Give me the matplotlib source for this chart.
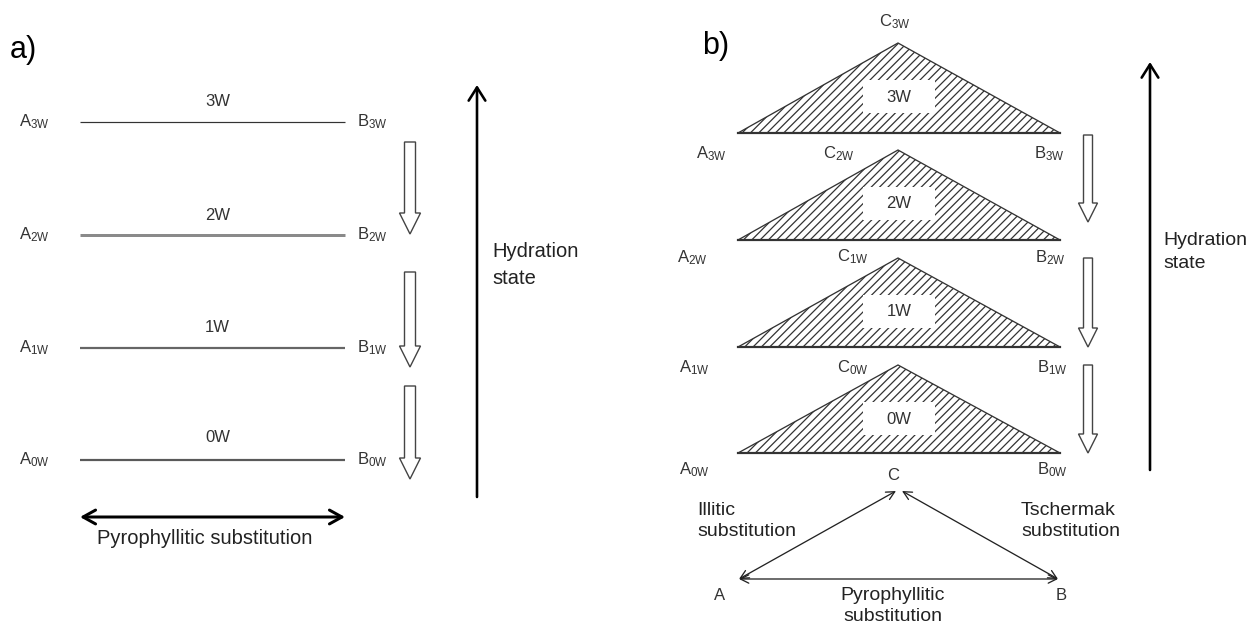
import numpy as np
import matplotlib.pyplot as plt
from matplotlib.patches import Polygon, Rectangle, FancyArrow

plt.rcParams["font.family"] = ["Liberation Sans", "DejaVu Sans"]
plt.rcParams["hatch.linewidth"] = 0.9

PT = 72 / 100  # points per pixel at dpi 100

# hydration states, top to bottom
levels = ["3W", "2W", "1W", "0W"]

# panel a) : one line A-B per hydration state
a_line_y = [122, 235, 348, 460]
a_line_x = [80, 345]
a_line_color = ["#333333", "#8a8a8a", "#666666", "#5a5a5a"]
a_line_w = [1.2, 3.0, 2.2, 2.2]
a_label_dy = [-21, -19, -21, -22]
a_A_x, a_B_x = 34, 372
a_drops = [(142, 234), (272, 367), (386, 479)]

# panel b) : one triangle A-B-C per hydration state
b_base_y = [133, 240, 347, 453]
b_apex_y = [43, 150, 258, 365]
b_A_x, b_C_x, b_B_x = 738, 898, 1060
b_lab_A = [(711, 154), (692, 258), (694, 368), (694, 470)]
b_lab_B = [(1049, 154), (1050, 258), (1052, 368), (1052, 470)]
b_lab_C = [(895, 22), (839, 154), (853, 257), (853, 368)]
b_drops = [(135, 222), (258, 347), (365, 453)]
sub_A = [(739, 579), (896, 491), (1058, 579)]  # A, C, B of substitution triangle

fig = plt.figure(figsize=(12.47, 6.28), dpi=100)
ax = fig.add_axes([0, 0, 1, 1])
ax.set_xlim(0, 1247)
ax.set_ylim(628, 0)
ax.axis("off")

lab_kw = dict(fontsize=12, color="#333333", ha="center", va="center")
txt_kw = dict(fontsize=14.5, color="#222222")
txt_b = dict(fontsize=14, color="#222222")


def sub(letter, s):
    return r"$\mathregular{%s_{%s}}$" % (letter, s)


def hollow(x, y0, y1, shaft, head):
    ax.add_patch(FancyArrow(x, y0, 0, y1 - y0, width=shaft, head_width=head,
                            head_length=head, length_includes_head=True,
                            fc="white", ec="#444444", lw=1.0, zorder=3))


# ---------- a) ----------
ax.text(10, 50, "a)", fontsize=22, va="center", ha="left")
for i, lv in enumerate(levels):
    y = a_line_y[i]
    ax.plot(a_line_x, [y, y], color=a_line_color[i], lw=a_line_w[i] * PT,
            solid_capstyle="butt")
    ax.text(np.mean(a_line_x) + 5, y + a_label_dy[i], lv, **lab_kw)
    ax.text(a_A_x, y, sub("A", lv), **lab_kw)
    ax.text(a_B_x, y, sub("B", lv), **lab_kw)

for y0, y1 in a_drops:
    hollow(410, y0, y1, 11, 21)

ax.annotate("", xy=(477, 85), xytext=(477, 497),
            arrowprops=dict(arrowstyle="->,head_length=0.95,head_width=0.6",
                            mutation_scale=10, lw=2.6 * PT, color="black",
                            shrinkA=0, shrinkB=0))
ax.text(492, 265, "Hydration\nstate", va="center", ha="left",
        linespacing=1.5, **txt_kw)

ax.annotate("", xy=(80, 517), xytext=(345, 517),
            arrowprops=dict(arrowstyle="<->,head_length=0.9,head_width=0.5",
                            mutation_scale=10, lw=3 * PT, color="black",
                            shrinkA=0, shrinkB=0))
ax.text(205, 538, "Pyrophyllitic substitution", va="center", ha="center",
        **txt_kw)

# ---------- b) ----------
ax.text(702, 46, "b)", fontsize=22, va="center", ha="left")
for i, lv in enumerate(levels):
    yb, ya = b_base_y[i], b_apex_y[i]
    tri = Polygon([(b_A_x, yb), (b_C_x, ya), (b_B_x, yb)], closed=True,
                  fc="white", ec="#333333", hatch="////", lw=1.3 * PT, zorder=2)
    ax.add_patch(tri)
    ax.plot([b_A_x, b_B_x], [yb, yb], color="#333333", lw=2.2 * PT, zorder=2)
    ax.add_patch(Rectangle((863, ya + 37), 72, 33, fc="white", ec="none",
                           zorder=2.5))
    ax.text(899, ya + 54, lv, zorder=3, **lab_kw)
    ax.text(*b_lab_A[i], sub("A", lv), **lab_kw)
    ax.text(*b_lab_B[i], sub("B", lv), **lab_kw)
    ax.text(*b_lab_C[i], sub("C", lv), **lab_kw)

for y0, y1 in b_drops:
    hollow(1088, y0, y1, 9, 19)

ax.annotate("", xy=(1150, 62), xytext=(1150, 470),
            arrowprops=dict(arrowstyle="->,head_length=0.95,head_width=0.6",
                            mutation_scale=10, lw=2.6 * PT, color="black",
                            shrinkA=0, shrinkB=0))
ax.text(1163, 252, "Hydration\nstate", va="center", ha="left",
        linespacing=1.45, **txt_b)

# substitution triangle
pA, pC, pB = sub_A
thin = dict(arrowstyle="<->,head_length=0.6,head_width=0.3",
            mutation_scale=10, lw=1.3 * PT, color="#222222",
            shrinkA=0, shrinkB=0)
ax.annotate("", xy=pC, xytext=pA, arrowprops=thin)
ax.annotate("", xy=(pC[0] + 6, pC[1]), xytext=pB, arrowprops=thin)
ax.annotate("", xy=pB, xytext=pA, arrowprops=thin)
ax.text(893, 476, "C", **lab_kw)
ax.text(720, 595, "A", **lab_kw)
ax.text(1061, 595, "B", **lab_kw)
ax.text(697, 521, "Illitic\nsubstitution", va="center", ha="left",
        linespacing=1.3, **txt_b)
ax.text(1021, 521, "Tschermak\nsubstitution", va="center", ha="left",
        linespacing=1.3, **txt_b)
ax.text(893, 606, "Pyrophyllitic\nsubstitution", va="center", ha="center",
        linespacing=1.25, **txt_b)

fig.savefig("out.png", dpi=100)
